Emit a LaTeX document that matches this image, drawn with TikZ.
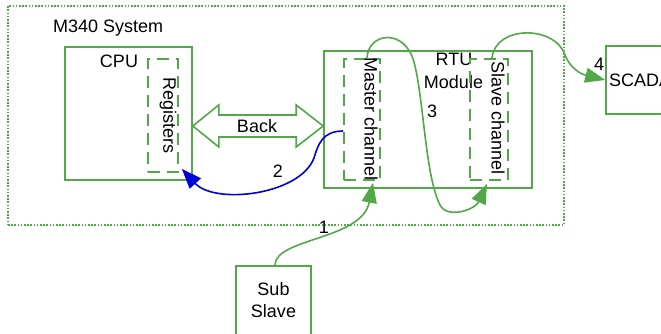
\documentclass[tikz,border=0pt]{standalone}
\usepackage{fontspec}
\setmainfont{Liberation Sans}
\usetikzlibrary{arrows.meta,calc}
\definecolor{vgreen}{RGB}{82,168,72}
\definecolor{vblue}{RGB}{0,0,220}
\begin{document}
\begin{tikzpicture}[x=1pt,y=-1pt,
  every node/.style={font=\fontsize{18}{22}\selectfont, inner sep=0pt},
  box/.style={draw=vgreen, line width=1.6pt, rectangle},
  dbox/.style={draw=vgreen, line width=1.6pt, dash pattern=on 12pt off 7pt},
  sysbox/.style={draw=vgreen, line width=1.3pt, dash pattern=on 1.6pt off 1.6pt},
  conn/.style={draw=vgreen, line width=1.6pt, -{Triangle[length=20pt,width=15pt]}},
  bconn/.style={draw=vblue, line width=1.6pt, -{Triangle[length=20pt,width=15pt]}},
  lbl/.style={anchor=base},
  blockarrow/.style={draw=vgreen, line width=1.6pt, fill=white, line join=miter},
]
\useasboundingbox (0,0) rectangle (661,333);
\clip (0,0) rectangle (661,333);

\node[sysbox, minimum width=556pt, minimum height=219pt] (sys) at (286,115.5) {};
\node[lbl, anchor=base west] (systxt) at (53,32) {M340 System};

\node[box, minimum width=127pt, minimum height=133pt] (cpu) at (128.5,113.5) {};
\node[lbl] (cputxt) at (119,67) {CPU};
\node[dbox, minimum width=30pt, minimum height=113pt] (reg) at (163,115.5) {};
\node[rotate=-90] (regtxt) at (168,115.5) {Registers};

\node[box, minimum width=208pt, minimum height=137pt] (rtu) at (428,119.5) {};
\node[lbl] (rtutxt) at (454,65) {RTU};
\node[lbl] (modtxt) at (453.5,88) {Module};
\node[dbox, minimum width=36pt, minimum height=121pt] (mc) at (362,119.5) {};
\node[rotate=-90] (mctxt) at (371,119) {Master channel};
\node[dbox, minimum width=38pt, minimum height=121pt] (sc) at (489,119.5) {};
\node[rotate=-90] (sctxt) at (498,118) {Slave channel};

\node[box, minimum width=68pt, minimum height=68pt] (scada) at (640,80) {SCADA};
\node[box, minimum width=75pt, minimum height=74pt, align=center, text depth=7pt] (sub) at (273.5,303) {Sub\\Slave};

% Back block arrow
\coordinate (bl) at (cpu.east |- 0,126);
\coordinate (br) at (rtu.west |- 0,126);
\draw[blockarrow] (bl) -- ++(26,-21) -- ++(0,10) -- ($(br)+(-27,-11)$) -- ++(0,-10) -- (br)
  -- ++(-27,21) -- ++(0,-10) -- ($(bl)+(26,11)$) -- ++(0,10) -- cycle;
\node[lbl] (backtxt) at (257,132) {Back};

% connectors
\draw[conn] ([xshift=1.5pt]sub.north) .. controls (275,238) and (362,240) .. ([xshift=11pt,yshift=-2pt]mc.south);
\draw[bconn] ([yshift=-11.5pt]mc.west) .. controls (322,131) and (318,145) .. (314,158)
  .. controls (300,195) and (215,205) .. ([xshift=3pt,yshift=4pt]reg.south east);
\draw[conn] ([xshift=5pt]mc.north) .. controls (368,32) and (405,28) .. (414,62)
  .. controls (424,100) and (425,175) .. (440,205)
  .. controls (447,219) and (475,210) .. ([xshift=-2pt,yshift=-3pt]sc.south);
\draw[conn] ([xshift=3pt]sc.north) .. controls (495,25) and (555,25) .. (565,55)
  .. controls (572,72) and (585,75) .. (scada.west);

\node[lbl] (n1) at (324,233) {1};
\node[lbl] (n2) at (278,177) {2};
\node[lbl] (n3) at (432,117) {3};
\node[lbl] (n4) at (599,70) {4};
\end{tikzpicture}
\end{document}
